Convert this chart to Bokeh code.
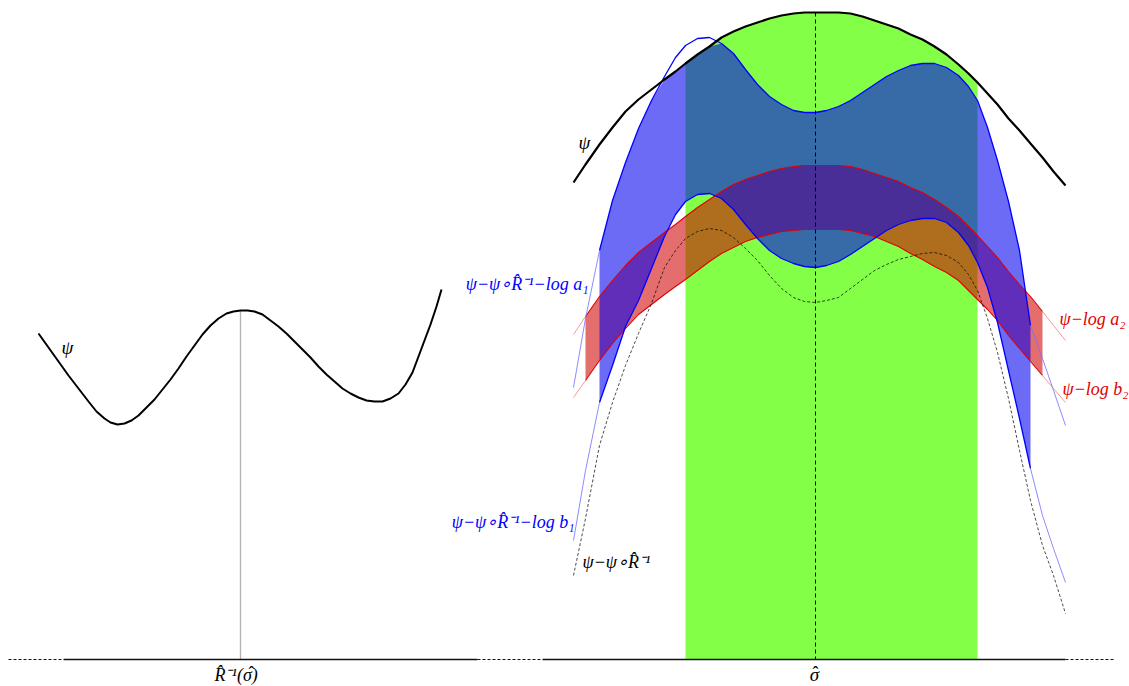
import numpy as np
from bokeh.plotting import figure
from bokeh.models import Range1d
from bokeh.core.properties import value
from bokeh.embed import file_html
from bokeh.resources import INLINE

# ---------------- data (screen-like units, y downwards) -------------
# left panel: psi
psi_left_x = [38, 48, 58, 68, 78, 88, 96, 104, 110, 117, 124, 131, 138, 146, 154, 162, 170, 178, 186, 194,
              202, 210, 218, 226, 233, 240, 247, 254, 262, 270, 278, 286, 294, 302, 310, 318, 326, 334, 342,
              350, 358, 366, 374, 382, 390, 398, 405, 412, 418, 424, 430, 436, 441]
psi_left_y = [333, 347, 361, 375, 388, 401, 411, 418, 422, 424, 423, 420, 415, 407, 399, 389, 379, 368, 356, 345,
              334, 325, 318, 313, 311, 310, 310, 311, 314, 320, 326, 333, 341, 349, 357, 366, 374, 381, 388,
              393, 397, 400, 401, 401, 398, 393, 384, 372, 356, 340, 324, 306, 289]

# right panel: common abscissae
grid_x = [573, 585, 599, 612, 625, 638, 651, 664, 675, 685, 697, 709, 721, 733, 745, 757, 769, 781, 793, 804,
          815, 826, 838, 850, 862, 874, 886, 898, 910, 922, 934, 946, 958, 968, 977, 987, 997, 1008, 1019, 1030,
          1042, 1053, 1065]
# psi
psi_y = [182, 164, 144, 127, 111, 99, 89, 79, 71, 63, 54, 46, 37, 31, 26, 22, 18, 15, 13, 12,
         12, 12, 12, 13, 16, 20, 24, 28, 34, 39, 46, 54, 64, 73, 82, 93, 104, 118, 130, 143,
         157, 171, 185]
# psi - psi∘R^-1 - log a1
a1_y = [387, 318, 250, 200, 162, 128, 100, 76, 57, 45, 38, 37, 43, 53, 69, 84, 96, 104, 110, 112,
        112, 110, 106, 100, 92, 84, 76, 70, 65, 63, 63, 67, 75, 86, 100, 127, 160, 201, 250, 325,
        358, 390, 425]
# psi - psi∘R^-1 - log b1
b1_y = [540, 470, 402, 365, 326, 300, 268, 236, 214, 201, 194, 193, 198, 209, 224, 238, 250, 258, 263, 266,
        267, 265, 261, 254, 246, 238, 230, 224, 220, 218, 218, 222, 232, 245, 262, 287, 322, 370, 418, 468,
        515, 548, 582]
# psi - psi∘R^-1
comp_y = [575, 518, 445, 402, 365, 333, 303, 267, 250, 238, 231, 228, 230, 237, 248, 260, 275, 288, 297, 301,
          302, 300, 297, 288, 279, 270, 264, 259, 256, 253, 252, 255, 262, 274, 290, 318, 352, 398, 450, 500,
          545, 575, 613]
# psi - log a2
a2_y = [334, 316, 296, 280, 265, 252, 242, 232, 224, 216, 207, 199, 191, 184, 179, 175, 171, 168, 166, 165,
        165, 165, 165, 166, 169, 173, 177, 181, 187, 192, 199, 207, 216, 226, 235, 246, 257, 271, 284, 296,
        311, 325, 340]
# psi - log b2
b2_y = [397, 380, 360, 343, 328, 314, 304, 294, 286, 279, 270, 261, 253, 247, 241, 237, 234, 231, 230, 229,
        229, 229, 229, 230, 233, 236, 241, 246, 253, 259, 266, 272, 280, 290, 299, 309, 320, 335, 348, 361,
        375, 388, 402]

baseline_y = 659
green_span = (685, 977)
blue_span = (599, 1030)
red_span = (585, 1042)
r_inv_sigma_x = 240
sigma_hat_x = 815
axis_solid = [(63, 477), (542, 1065)]
axis_dashed = [(8, 63), (477, 542), (1065, 1114)]

label_text = ["ψ", "ψ", "ψ−ψ∘R\u0302⁻¹−log a₁", "ψ−ψ∘R\u0302⁻¹−log b₁", "ψ−ψ∘R\u0302⁻¹",
              "ψ−log a₂", "ψ−log b₂", "R\u0302⁻¹(σ)", "σ"]
hat = "ˆ"

# ---------------- figure ----------------
W, H = 1129, 686
p = figure(width=W, height=H, x_range=Range1d(0, W), y_range=Range1d(H, 0),
           output_backend="svg", toolbar_location=None, min_border=0,
           x_axis_type=None, y_axis_type=None)
p.outline_line_color = None
p.background_fill_color = "white"
p.border_fill_color = "white"

X = np.array(grid_x)
PSI = np.array(psi_y)
A1 = np.array(a1_y)
B1 = np.array(b1_y)
CO = np.array(comp_y)
A2 = np.array(a2_y)
B2 = np.array(b2_y)

GREEN = "#82ff46"
RED = "#d00000"
BLUE = "#0000f0"

def span_mask(lo, hi):
    return (X >= lo) & (X <= hi)

mg = span_mask(*green_span)
mr = span_mask(*red_span)
mb = span_mask(*blue_span)

# fills
p.varea(x=X[mg], y1=PSI[mg], y2=baseline_y, fill_color=GREEN, fill_alpha=1.0)
p.varea(x=X[mr], y1=A2[mr], y2=B2[mr], fill_color=RED, fill_alpha=0.57)
blue_top = np.maximum(A1, PSI)
p.varea(x=X[mb], y1=blue_top[mb], y2=B1[mb], fill_color=BLUE, fill_alpha=0.58)

# boundary curves (strong inside their span, faint outside)
def draw_curve(Y, span, color, width, ext_color, ext_width):
    lo, hi = span
    m_in = span_mask(lo, hi)
    m_l = X <= lo
    m_r = X >= hi
    p.line(X[m_in], Y[m_in], line_color=color, line_width=width)
    p.line(X[m_l], Y[m_l], line_color=ext_color, line_width=ext_width, line_alpha=0.8)
    p.line(X[m_r], Y[m_r], line_color=ext_color, line_width=ext_width, line_alpha=0.8)

draw_curve(A2, red_span, "#e00000", 1.1, "#f07070", 0.9)
draw_curve(B2, red_span, "#e00000", 1.1, "#f07070", 0.9)
draw_curve(A1, blue_span, "#0000ff", 1.3, "#6f6fff", 1.0)
draw_curve(B1, blue_span, "#0000ff", 1.3, "#6f6fff", 1.0)

# psi - psi∘R^-1 (dashed)
p.line(X, CO, line_color="#000000", line_alpha=0.7, line_width=1, line_dash="3 2")

# vertical markers
left_top = psi_left_y[psi_left_x.index(r_inv_sigma_x)]
p.segment(x0=[r_inv_sigma_x], y0=[left_top], x1=[r_inv_sigma_x], y1=[baseline_y],
          line_color="#b4b4b4", line_width=1.4)
center_top = psi_y[grid_x.index(sigma_hat_x)]
p.segment(x0=[sigma_hat_x], y0=[center_top], x1=[sigma_hat_x], y1=[baseline_y],
          line_color="#000000", line_width=1, line_dash="4 3")

# psi curves
p.line(psi_left_x, psi_left_y, line_color="black", line_width=2)
p.line(X, PSI, line_color="black", line_width=2.2)

# base axis line
p.segment(x0=[s[0] for s in axis_solid], y0=[baseline_y] * len(axis_solid),
          x1=[s[1] for s in axis_solid], y1=[baseline_y] * len(axis_solid),
          line_color="#111111", line_width=1.6)
p.segment(x0=[s[0] for s in axis_dashed], y0=[baseline_y] * len(axis_dashed),
          x1=[s[1] for s in axis_dashed], y1=[baseline_y] * len(axis_dashed),
          line_color="#111111", line_width=1.2, line_dash="3 2")

# labels (vertical centres)
label_x = [67, 584, 588, 574, 582, 1059, 1062, 214, 814]
label_y = [347, 142, 283, 521, 561, 318, 388, 674, 674]
label_color = ["black", "black", "#0000ff", "#0000ff", "black", "#e00000", "#e00000", "black", "black"]
label_align = ["center", "center", "right", "right", "left", "left", "left", "left", "center"]
label_size = ["19px", "19px", "18px", "18px", "18px", "18px", "18px", "18px", "19px"]
for t, x, y, c, a, s in zip(label_text, label_x, label_y, label_color, label_align, label_size):
    p.text(x=[x], y=[y], text=[t], text_color=c, text_align=a, text_baseline="middle",
           text_font=value("Liberation Serif"), text_font_style="italic",
           text_font_size=value(s))

# circumflex accents over sigma
p.text(x=[251, 815], y=[672, 672], text=[hat, hat], text_color="black", text_align="center",
       text_baseline="middle", text_font=value("Liberation Serif"),
       text_font_size=value("18px"))

open("out.html", "w").write(file_html(p, INLINE))
